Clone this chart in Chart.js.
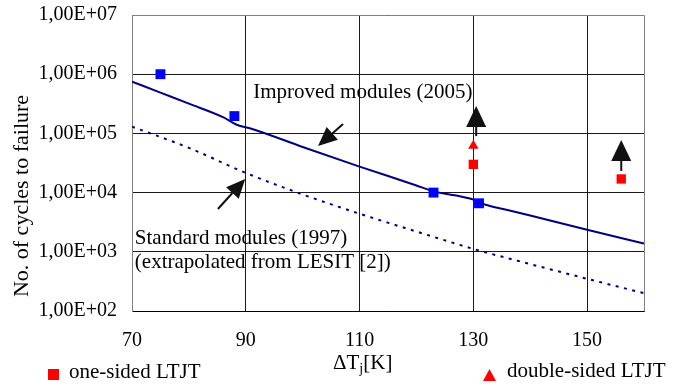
<!DOCTYPE html>
<html>
<head>
<meta charset="utf-8">
<script src="https://cdn.jsdelivr.net/npm/chart.js@4"></script>
<style>
html,body{margin:0;padding:0;background:#fff;}
#wrap{width:686px;height:385px;position:relative;}
</style>
</head>
<body>
<div id="wrap"><canvas id="c" width="686" height="385"></canvas></div>
<script>
// ---- data ----
const xTicks = [70, 90, 110, 130, 150];
const yTicks = [1e2, 1e3, 1e4, 1e5, 1e6, 1e7];
const yTickLabels = ['1,00E+02', '1,00E+03', '1,00E+04', '1,00E+05', '1,00E+06', '1,00E+07'];

// Improved modules (2005) fitted curve
const improvedX = [70, 75, 80, 86, 88.4, 91, 100, 110, 120, 123, 127, 130, 132, 136, 140, 150, 160];
const improvedY = [750000, 488000, 318000, 188000, 140000, 120000, 59000, 27500, 13200, 10500, 8900, 7600, 6300, 5100, 4100, 2350, 1380];

// Standard modules (1997) extrapolated curve
const standardX = [70, 80, 90, 100, 110, 120, 130, 140, 150, 160];
const standardY = [130000, 57000, 21500, 9300, 4400, 2200, 1120, 620, 350, 200];

// measured points
const improvedDataX = [75, 88, 123, 131];
const improvedDataY = [1000000, 196000, 10000, 6600];
const oneSidedX = [130, 156];
const oneSidedY = [30000, 17000];
const doubleSidedX = [130];
const doubleSidedY = [62000];

// annotations (data coordinates)
const noteTexts = ['Improved modules (2005)', 'Standard modules (1997)', '(extrapolated from LESIT [2])'];
const noteX = [91.3, 70.5, 70.5];
const noteY = [389000, 1355, 532];
const arrowFromX = [107.1, 85.1];
const arrowFromY = [144000, 5290];
const arrowToX = [102.7, 89.9];
const arrowToY = [61200, 17000];
const upArrowX = [130.5, 156];
const upArrowFromY = [90000, 23200];
const upArrowToY = [290000, 77500];

const legendLabels = ['one-sided LTJT', 'double-sided LTJT'];

// ---- chart ----
const FONT = "'Liberation Serif', 'Times New Roman', serif";
const pts = (xs, ys) => xs.map((v, i) => ({x: v, y: ys[i]}));

function arrow(ctx, x1, y1, x2, y2, headLen, headW, lw) {
  const ang = Math.atan2(y2 - y1, x2 - x1);
  const bx = x2 - headLen * Math.cos(ang), by = y2 - headLen * Math.sin(ang);
  ctx.lineWidth = lw;
  ctx.beginPath(); ctx.moveTo(x1, y1); ctx.lineTo(bx, by); ctx.stroke();
  ctx.beginPath(); ctx.moveTo(x2, y2);
  ctx.lineTo(bx + headW * Math.sin(ang), by - headW * Math.cos(ang));
  ctx.lineTo(bx - headW * Math.sin(ang), by + headW * Math.cos(ang));
  ctx.closePath(); ctx.fill();
}

const deco = {
  id: 'deco',
  beforeDatasetsDraw(chart) {
    const {ctx, chartArea: a} = chart;
    ctx.save();
    ctx.strokeStyle = '#808080';
    ctx.lineWidth = 1;
    ctx.beginPath();
    ctx.moveTo(a.left + 0.5, a.bottom);
    ctx.lineTo(a.left + 0.5, a.top + 0.5);
    ctx.lineTo(a.right + 0.5, a.top + 0.5);
    ctx.lineTo(a.right + 0.5, a.bottom + 0.5);
    ctx.stroke();
    ctx.restore();
  },
  afterDraw(chart) {
    const {ctx, scales: {x, y}} = chart;
    ctx.save();
    ctx.fillStyle = '#000';
    ctx.strokeStyle = '#000';
    // notes
    ctx.font = '21px ' + FONT;
    ctx.textAlign = 'left';
    ctx.textBaseline = 'alphabetic';
    noteTexts.forEach((t, i) => ctx.fillText(t, x.getPixelForValue(noteX[i]), y.getPixelForValue(noteY[i])));
    // diagonal arrows
    ctx.fillStyle = '#111'; ctx.strokeStyle = '#111';
    arrowFromX.forEach((v, i) => arrow(ctx,
      x.getPixelForValue(v), y.getPixelForValue(arrowFromY[i]),
      x.getPixelForValue(arrowToX[i]), y.getPixelForValue(arrowToY[i]), 19, 8.5, 2));
    // up arrows
    upArrowX.forEach((v, i) => arrow(ctx,
      x.getPixelForValue(v), y.getPixelForValue(upArrowFromY[i]),
      x.getPixelForValue(v), y.getPixelForValue(upArrowToY[i]), 21, 10, 2));
    // y axis title
    ctx.fillStyle = '#000';
    ctx.save();
    ctx.translate(28, 196);
    ctx.rotate(-Math.PI / 2);
    ctx.font = '22px ' + FONT;
    ctx.textAlign = 'center';
    ctx.fillText('No. of cycles to failure', 0, 0);
    ctx.restore();
    // x axis title  ΔTj[K]
    ctx.textAlign = 'left';
    let px = 333;
    const base = 369;
    ctx.font = '21px ' + FONT;
    ctx.fillText('\u0394T', px, base); px += ctx.measureText('\u0394T').width;
    ctx.font = '14px ' + FONT;
    ctx.fillText('j', px, base + 4); px += ctx.measureText('j').width;
    ctx.font = '21px ' + FONT;
    ctx.fillText('[K]', px, base);
    // legend
    ctx.fillStyle = '#ff0000';
    ctx.fillRect(48, 369, 11, 11);
    ctx.beginPath();
    ctx.moveTo(489.5, 369); ctx.lineTo(496, 381); ctx.lineTo(483, 381); ctx.closePath(); ctx.fill();
    ctx.fillStyle = '#000';
    ctx.font = '21px ' + FONT;
    ctx.fillText(legendLabels[0], 69, 378);
    ctx.fillText(legendLabels[1], 507, 377);
    ctx.restore();
  }
};

new Chart(document.getElementById('c'), {
  type: 'scatter',
  data: {
    datasets: [
      {label: 'Improved data', data: pts(improvedDataX, improvedDataY), pointStyle: 'rect', pointRadius: 7, pointBackgroundColor: '#0000ff', pointBorderWidth: 0, showLine: false, order: 0},
      {label: legendLabels[0], data: pts(oneSidedX, oneSidedY), pointStyle: 'rect', pointRadius: 6.6, pointBackgroundColor: '#ff0000', pointBorderWidth: 0, showLine: false, order: 0},
      {label: legendLabels[1], data: pts(doubleSidedX, doubleSidedY), pointStyle: 'triangle', pointRadius: 6, pointBackgroundColor: '#ff0000', pointBorderWidth: 0, showLine: false, order: 0},
      {label: 'Improved modules (2005)', data: pts(improvedX, improvedY), showLine: true, borderColor: '#000080', borderWidth: 2, pointRadius: 0, cubicInterpolationMode: 'monotone', order: 1},
      {label: 'Standard modules (1997)', data: pts(standardX, standardY), showLine: true, borderColor: '#000080', borderWidth: 2, borderDash: [3, 5.5], pointRadius: 0, cubicInterpolationMode: 'monotone', order: 1}
    ]
  },
  options: {
    responsive: false,
    animation: false,
    devicePixelRatio: 1,
    layout: {padding: {left: 0, right: 42, top: 15, bottom: 0}},
    plugins: {legend: {display: false}, tooltip: {enabled: false}},
    scales: {
      x: {
        type: 'linear', min: 70, max: 160,
        afterBuildTicks: s => { s.ticks = xTicks.map(v => ({value: v})); },
        afterFit: s => { s.height = 74; s.paddingLeft = 0; s.paddingRight = 0; },
        ticks: {color: '#000', font: {family: FONT, size: 20}, padding: 18, maxRotation: 0, autoSkip: false},
        grid: {color: '#1a1a1a', lineWidth: 1, drawTicks: false},
        border: {color: '#000', width: 1}
      },
      y: {
        type: 'logarithmic', min: 1e2, max: 1e7,
        afterBuildTicks: s => { s.ticks = yTicks.map(v => ({value: v})); },
        afterFit: s => { s.width = 132; s.paddingTop = 0; s.paddingBottom = 0; },
        ticks: {color: '#000', font: {family: FONT, size: 20}, padding: 15, autoSkip: false,
          callback: v => { const i = yTicks.indexOf(v); return i >= 0 ? yTickLabels[i] : ''; }},
        grid: {color: '#1a1a1a', lineWidth: 1, drawTicks: false},
        border: {color: '#808080', width: 1}
      }
    }
  },
  plugins: [deco]
});
</script>
</body>
</html>
